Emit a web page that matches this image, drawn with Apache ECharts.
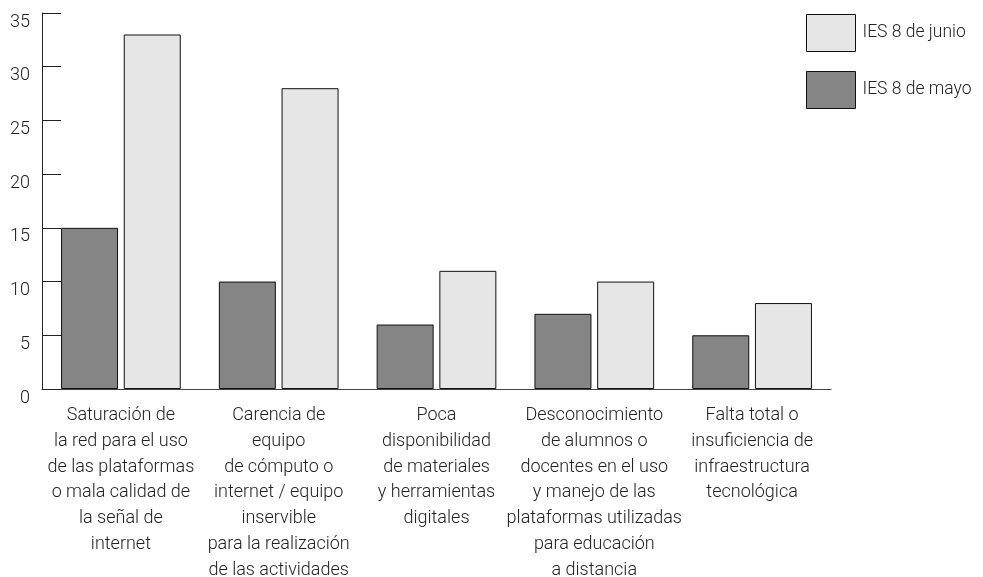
<!DOCTYPE html>
<html>
<head>
<meta charset="utf-8">
<script src="https://cdn.jsdelivr.net/npm/echarts@6/dist/echarts.min.js"></script>
<style>html,body{margin:0;padding:0;background:#fff;}#c{width:983px;height:577px;}</style>
</head>
<body>
<div id="c"></div>
<script>
const categories = [
  "Saturación de\nla red para el uso\nde las plataformas\no mala calidad de\nla señal de\ninternet",
  "Carencia de\nequipo\nde cómputo o\ninternet / equipo\ninservible\npara la realización\nde las actividades",
  "Poca\ndisponibilidad\nde materiales\ny herramientas\ndigitales",
  "Desconocimiento\nde alumnos o\ndocentes en el uso\ny manejo de las\nplataformas utilizadas\npara educación\na distancia",
  "Falta total o\ninsuficiencia de\ninfraestructura\ntecnológica"
];
const seriesMayo = [15, 10, 6, 7, 5];
const seriesJunio = [33, 28, 11, 10, 8];
const nameMayo = "IES 8 de mayo";
const nameJunio = "IES 8 de junio";

const font = "Roboto";
const chart = echarts.init(document.getElementById('c'));
chart.setOption({
  animation: false,
  textStyle: {fontFamily: font},
  grid: {left: 42, right: 152, top: 13, bottom: 188, containLabel: false, outerBoundsMode: 'none'},
  legend: {
    data: [nameJunio, nameMayo],
    orient: 'vertical',
    left: 806, top: 14, padding: 0,
    itemWidth: 49, itemHeight: 37, itemGap: 19,
    itemStyle: {borderWidth: 1, borderColor: '#111'},
    textStyle: {fontFamily: font, fontSize: 17.5, fontWeight: 300, color: '#222', padding: [0, 0, 0, 2]},
    icon: 'rect'
  },
  xAxis: {
    type: 'category',
    data: categories,
    axisLine: {lineStyle: {color: '#444', width: 1}},
    axisTick: {inside: true, length: 7, lineStyle: {color: '#444'}},
    axisLabel: {fontFamily: font, fontSize: 18, fontWeight: 300, color: '#222', lineHeight: 25.7, margin: 14, interval: 0}
  },
  yAxis: {
    type: 'value', min: 0, max: 35, interval: 5,
    axisLine: {show: true, lineStyle: {color: '#222', width: 1}},
    axisTick: {show: true, inside: true, length: 19, lineStyle: {color: '#222'}},
    splitLine: {show: false},
    axisLabel: {fontFamily: font, fontSize: 18, fontWeight: 300, color: '#222', margin: 12, verticalAlign: 'top', lineHeight: 18}
  },
  series: [
    {name: nameMayo, type: 'bar', data: seriesMayo, barWidth: 57, barGap: '10%',
     itemStyle: {color: '#858585', borderColor: '#111', borderWidth: 1}},
    {name: nameJunio, type: 'bar', data: seriesJunio, barWidth: 57,
     itemStyle: {color: '#e6e6e6', borderColor: '#111', borderWidth: 1}}
  ]
});
</script>
</body>
</html>
